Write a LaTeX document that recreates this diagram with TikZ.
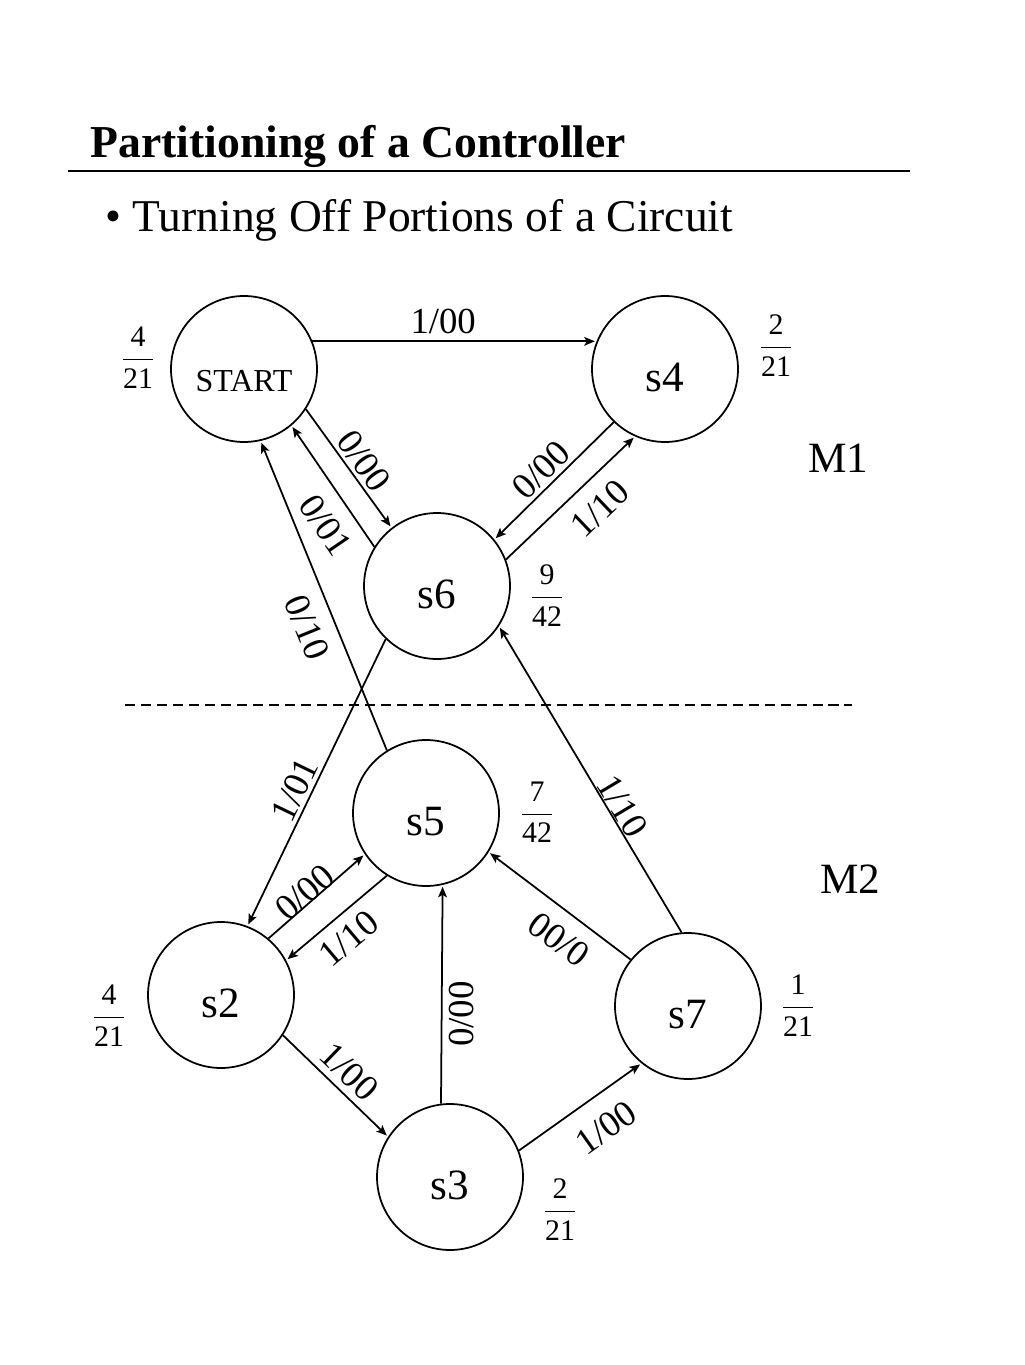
\documentclass[tikz,border=0pt]{standalone}
\usepackage{amsmath}
\usepackage{fontspec}
\setmainfont{Liberation Serif}
\usepackage{tikz}
\usetikzlibrary{arrows.meta,positioning}
\newcommand{\probfr}[2]{$\dfrac{\text{#1}}{\text{#2}}$}
\tikzstyle{state}=[draw, circle, line width=1pt, minimum size=2.92cm, inner sep=0pt, font=\fontsize{24.6}{28}\selectfont, text height=26pt, text depth=0pt]
\tikzstyle{lbl}=[font=\fontsize{20.9}{24}\selectfont, inner sep=2pt, sloped]
\tikzstyle{prob}=[font=\fontsize{17}{20}\selectfont, inner sep=0pt]
\tikzstyle{part}=[font=\fontsize{24.6}{28}\selectfont, anchor=base west, inner sep=0pt]
\tikzstyle{head}=[anchor=base west, inner sep=0pt, font=\fontsize{25.9}{30}\selectfont]

\begin{document}
\begin{tikzpicture}[x=0.02cm,y=-0.02cm,>={Stealth[length=6pt,width=5pt,inset=1.4pt]}]
    \useasboundingbox (0,0) rectangle (1024,1365);
    % heading
    \node[head, font=\fontsize{26}{30}\selectfont\bfseries] (title) at (90,158) {Partitioning of a Controller};
    \draw[line width=1.2pt] (68,171) -- (910,171);
    \node[head] (sub) at (105,232) {\textbullet\ Turning Off Portions of a Circuit};
    % states
    \node[state, font=\fontsize{18.2}{21}\selectfont] (start) at (244,369) {START};
    \node[state] (s4) at (665,369) {s4};
    \node[state] (s6) at (437,586) {s6};
    \node[state] (s5) at (426,813) {s5};
    \node[state] (s2) at (221,995) {s2};
    \node[state] (s7) at (688,1006) {s7};
    \node[state] (s3) at (450,1177) {s3};
    % probabilities
    \node[prob] (pstart) at (138,357.5) {\probfr{4}{21}};
    \node[prob] (p4) at (776,345.5) {\probfr{2}{21}};
    \node[prob] (p6) at (547,595.5) {\probfr{9}{42}};
    \node[prob] (p5) at (537,812.5) {\probfr{7}{42}};
    \node[prob] (p2) at (109,1015.5) {\probfr{4}{21}};
    \node[prob] (p7) at (798,1005.5) {\probfr{1}{21}};
    \node[prob] (p3) at (560,1209.5) {\probfr{2}{21}};
    % partition
    \draw[line width=0.8pt, dash pattern=on 5.7pt off 3.4pt] (125,705) -- (852,705);
    \node[part] (m1) at (808,472) {M1};
    \node[part] (m2) at (820,893) {M2};
    % transitions
    \path[->, line width=1pt, shorten >=1pt]
    (start.22) edge node[lbl, above=1.7pt, pos=.46] {1/00} (s4.158)
    (start.-33) edge node[lbl, above, pos=.52] {0/00} (s6.128)
    (s6.148) edge node[lbl, below=6.5pt, pos=.31] {0/01} (start.-50)
    (s5.122) edge node[lbl, below=6pt, pos=.43] {0/10} (start.-77)
    (s4.226) edge node[lbl, above, pos=.51] {0/00} (s6.39)
    (s6.21) edge node[lbl, below=6.5pt, pos=.58] {1/10} (s4.246)
    (s6.226) edge node[lbl, above, pos=.55] {1/01} (s2.69)
    (s7.95) edge node[lbl, above=-1.7pt, pos=.39] {1/10} (s6.-33)
    (s2.50) edge node[lbl, above=-3.4pt, pos=.45] {0/00} (s5.214)
    (s5.238) edge node[lbl, below=4pt, pos=.53] {1/10} (s2.28)
    (s3.97) edge node[lbl, below=1.7pt, pos=.41] {0/00} (s5.283)
    (s7.141) edge node[lbl, allow upside down, above=6pt, pos=.39] {0/00} (s5.-32)
    (s2.-33) edge node[lbl, above=1.7pt, pos=.5] {1/00} (s3.147)
    (s3.21) edge node[lbl, below=8.5pt, pos=.56] {1/00} (s7.231);
\end{tikzpicture}
\end{document}
